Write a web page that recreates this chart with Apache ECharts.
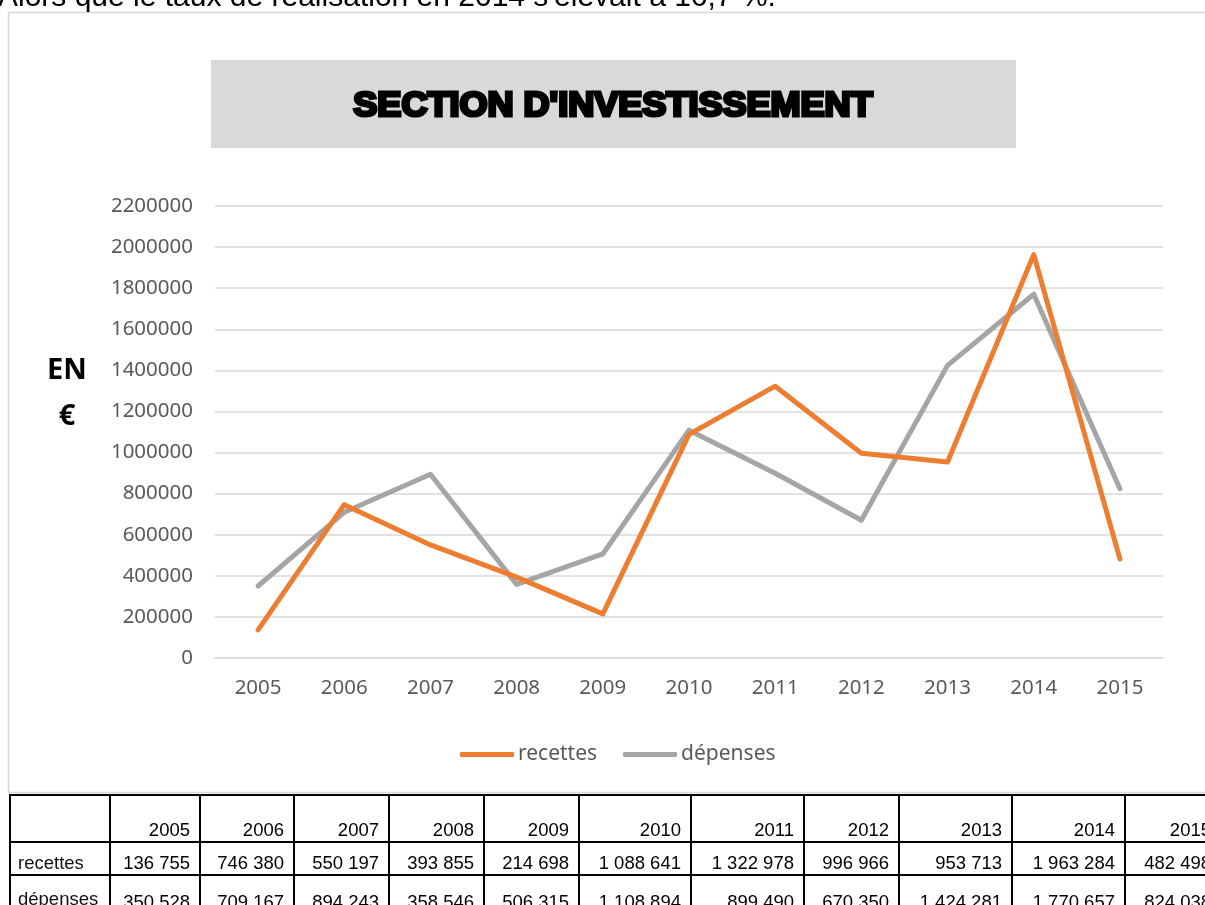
<!DOCTYPE html>
<html>
<head>
<meta charset="utf-8">
<script src="https://cdn.jsdelivr.net/npm/echarts@6/dist/echarts.min.js"></script>
<style>
  html, body { margin: 0; padding: 0; background: #fff; }
  #wrap { position: relative; width: 1205px; height: 905px; overflow: hidden; }
  #chart { position: absolute; left: 0; top: 0; width: 1205px; height: 905px; }
  #tbl { position: absolute; left: 9px; top: 794px; border-collapse: collapse; table-layout: fixed;
         font-family: "Liberation Sans", Arial, sans-serif; font-size: 18.5px; color: #000; }
  #tbl td { border: 2px solid #000; padding: 0 9px 0 4px; text-align: right; white-space: nowrap; overflow: hidden; line-height: 21px; }
  #tbl td.lbl { text-align: left; padding-left: 7px; color: #111; }
  #tbl tr.h td { height: 44px; vertical-align: bottom; padding-bottom: 1px; }
  #tbl tr.r1 td { height: 30px; vertical-align: bottom; padding-bottom: 1px; }
  #tbl tr.r2 td { height: 40px; vertical-align: top; padding-top: 15px; }
  #tbl tr.r2 td.lbl { padding-top: 12px; }
</style>
</head>
<body>
<div id="wrap">
  <div id="chart"></div>
  <table id="tbl"></table>
</div>
<script>
const years = ['2005','2006','2007','2008','2009','2010','2011','2012','2013','2014','2015'];
const recettes = [136755, 746380, 550197, 393855, 214698, 1088641, 1322978, 996966, 953713, 1963284, 482498];
const depenses = [350528, 709167, 894243, 358546, 506315, 1108894, 899490, 670350, 1424281, 1770657, 824038];
const seriesNames = ['recettes', 'dépenses'];
const titleText = "SECTION D'INVESTISSEMENT";
const topText = "Alors que le taux de réalisation en 2014 s'élevait à 16,7 %.";

// table
const colWidths = [100, 90, 94, 95, 95, 95, 112, 113, 95, 113, 113, 96];
function fmt(v) { return String(v).replace(/\B(?=(\d{3})+(?!\d))/g, ' '); }
const tbl = document.getElementById('tbl');
let html = '<colgroup>' + colWidths.map(w => '<col style="width:' + w + 'px">').join('') + '</colgroup>';
html += '<tr class="h"><td class="lbl"></td>' + years.map(y => '<td>' + y + '</td>').join('') + '</tr>';
html += '<tr class="r1"><td class="lbl">' + seriesNames[0] + '</td>' + recettes.map(v => '<td>' + fmt(v) + '</td>').join('') + '</tr>';
html += '<tr class="r2"><td class="lbl">' + seriesNames[1] + '</td>' + depenses.map(v => '<td>' + fmt(v) + '</td>').join('') + '</tr>';
tbl.innerHTML = html;
tbl.style.width = colWidths.reduce((a, b) => a + b, 0) + 'px';

const chart = echarts.init(document.getElementById('chart'));
const axisFont = '"Noto Sans", "Open Sans", sans-serif';
chart.setOption({
  backgroundColor: '#ffffff',
  animation: false,
  graphic: [
    { type: 'text', x: -2, y: 13, style: { text: topText, font: '30px "Liberation Sans", Arial, sans-serif', fill: '#000', textVerticalAlign: 'bottom' } },
    { type: 'rect', shape: { x: 8.5, y: 12.5, width: 1300, height: 780 }, style: { fill: 'none', stroke: '#d6d6d6', lineWidth: 1.5 }, z: -10 },
    { type: 'rect', shape: { x: 211, y: 60, width: 805, height: 88 }, style: { fill: '#d9d9d9' } },
    { type: 'text', x: 613, y: 106, scaleX: 1.03, z: 10,
      style: { text: titleText, font: 'bold 35px "Liberation Sans", Arial, sans-serif', fill: '#000', stroke: '#000', lineWidth: 3.2, lineJoin: 'round', textAlign: 'center', textVerticalAlign: 'middle' } },
    { type: 'text', x: 67, y: 371, style: { text: 'EN', font: 'bold 29px "Noto Sans", sans-serif', fill: '#000', textAlign: 'center', textVerticalAlign: 'middle' } },
    { type: 'text', x: 67, y: 417, style: { text: '€', font: 'bold 29px "Noto Sans", sans-serif', fill: '#000', textAlign: 'center', textVerticalAlign: 'middle' } }
  ],
  grid: { left: 215, right: 42, top: 206, bottom: 247, containLabel: false },
  legend: {
    data: seriesNames.map(n => ({ name: n, icon: 'roundRect' })),
    top: 739, left: 455,
    itemWidth: 54, itemHeight: 5, itemGap: 26,
    textStyle: { fontFamily: axisFont, fontSize: 21, color: '#595959', padding: [0, 0, 0, -1] }
  },
  xAxis: {
    type: 'category', data: years, boundaryGap: true,
    axisLine: { show: true, lineStyle: { color: '#d9d9d9', width: 1.5 } },
    axisTick: { show: false },
    axisLabel: { fontFamily: axisFont, fontSize: 20.5, color: '#595959', margin: 20 }
  },
  yAxis: {
    type: 'value', min: 0, max: 2200000, interval: 200000,
    axisLine: { show: false }, axisTick: { show: false },
    axisLabel: { fontFamily: axisFont, fontSize: 20.5, color: '#595959', margin: 22, formatter: v => String(v) },
    splitLine: { lineStyle: { color: '#d9d9d9', width: 1.5 } }
  },
  series: [
    { name: seriesNames[0], type: 'line', data: recettes, symbol: 'none', color: '#ED7D31',
      lineStyle: { color: '#ED7D31', width: 5, cap: 'round', join: 'round' }, z: 3 },
    { name: seriesNames[1], type: 'line', data: depenses, symbol: 'none', color: '#A5A5A5',
      lineStyle: { color: '#A5A5A5', width: 5, cap: 'round', join: 'round' }, z: 2 }
  ]
});
</script>
</body>
</html>
